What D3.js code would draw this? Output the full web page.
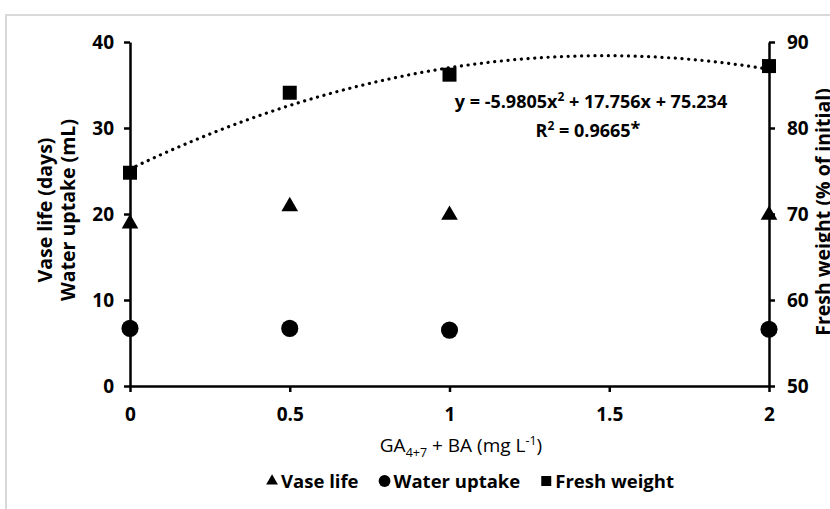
<!DOCTYPE html>
<html>
<head>
<meta charset="utf-8">
<script src="https://cdn.jsdelivr.net/npm/d3@7"></script>
<style>
    body { margin: 0; background: #fff; }
    svg { display: block; font-family: "Open Sans", sans-serif; font-weight: bold; }
    .axis path, .axis line { stroke: #000; stroke-width: 2.5; }
    .axis text { font-size: 19px; font-weight: bold; font-family: "Open Sans", sans-serif; fill: #000; }
</style>
</head>
<body>
<div id="container"></div>
<script>
/* DATA */
const doses = [0, 0.5, 1, 2]
const vaseLife = [19, 21, 20, 20]
const waterUptake = [6.7, 6.7, 6.5, 6.6]
const freshWeight = [74.8, 84.1, 86.2, 87.2]
const xTicks = [0, 0.5, 1, 1.5, 2]
const leftTicks = [0, 10, 20, 30, 40]
const rightTicks = [50, 60, 70, 80, 90]
// trendline coefficients as printed on the chart (a x^2 + b x + c)
const trendCoef = [-5.9805, 17.756, 75.234]
const r2Text = "0.9665"

/* CONSTANTS */
const width = 830,
    height = 509

const svg = d3.select("#container")
    .append("svg")
    .attr("width", width)
    .attr("height", height)

// outer frame (cut by the picture edges)
svg.append("rect")
    .attr("x", 6)
    .attr("y", 15)
    .attr("width", 900)
    .attr("height", 600)
    .attr("fill", "none")
    .attr("stroke", "#d9d9d9")
    .attr("stroke-width", 2)

//SCALES
const xScale = d3.scaleLinear().domain([0, 2]).range([130, 769])
const yLeft = d3.scaleLinear().domain([0, 40]).range([386, 42])
const yRight = d3.scaleLinear().domain([50, 90]).range([386, 42])

// AXES
svg.append("g")
    .attr("class", "axis")
    .attr("transform", "translate(0,386)")
    .call(d3.axisBottom(xScale).tickValues(xTicks).tickFormat(d3.format("")).tickSize(6).tickSizeOuter(0).tickPadding(16))

svg.append("g")
    .attr("class", "axis")
    .attr("transform", "translate(130,0)")
    .call(d3.axisLeft(yLeft).tickValues(leftTicks).tickSize(6).tickSizeOuter(0).tickPadding(10))

svg.append("g")
    .attr("class", "axis")
    .attr("transform", "translate(769,0)")
    .call(d3.axisRight(yRight).tickValues(rightTicks).tickSize(6).tickSizeOuter(0).tickPadding(12))

// TRENDLINE (polynomial from printed coefficients)
const trendX = d3.range(0, 2.0001, 0.02)
const trend = d3.line()
    .x(d => xScale(d))
    .y(d => yRight(trendCoef[0] * d * d + trendCoef[1] * d + trendCoef[2]))
    .curve(d3.curveBasis)

svg.append("path")
    .attr("d", trend(trendX))
    .attr("fill", "none")
    .attr("stroke", "#000")
    .attr("stroke-width", 3.2)
    .attr("stroke-linecap", "round")
    .attr("stroke-dasharray", "0.1 6.6")

// MARKERS
const triangle = d3.symbol().type(d3.symbolTriangle).size(120)
const circle = d3.symbol().type(d3.symbolCircle).size(230)
const square = d3.symbol().type(d3.symbolSquare).size(196)

svg.selectAll(".vase")
    .data(doses)
    .join("path")
    .attr("class", "vase")
    .attr("d", triangle)
    .attr("transform", (d, i) => "translate(" + xScale(d) + "," + (yLeft(vaseLife[i]) + 1) + ")")

svg.selectAll(".water")
    .data(doses)
    .join("path")
    .attr("class", "water")
    .attr("d", circle)
    .attr("transform", (d, i) => "translate(" + xScale(d) + "," + yLeft(waterUptake[i]) + ")")

svg.selectAll(".fresh")
    .data(doses)
    .join("path")
    .attr("class", "fresh")
    .attr("d", square)
    .attr("transform", (d, i) => "translate(" + xScale(d) + "," + yRight(freshWeight[i]) + ")")

// EQUATION
const eq = svg.append("text")
    .attr("x", 591)
    .attr("y", 108)
    .attr("text-anchor", "middle")
    .style("font-size", "18px")
eq.append("tspan").text("y = " + trendCoef[0] + "x")
eq.append("tspan").attr("dy", -7).style("font-size", "12px").text("2")
eq.append("tspan").attr("dy", 7).text(" + " + trendCoef[1] + "x + " + trendCoef[2])

const r2 = svg.append("text")
    .attr("x", 588)
    .attr("y", 137)
    .attr("text-anchor", "middle")
    .style("font-size", "18px")
r2.append("tspan").text("R")
r2.append("tspan").attr("dy", -7).style("font-size", "12px").text("2")
r2.append("tspan").attr("dy", 7).text(" = " + r2Text)
r2.append("tspan").attr("dy", -2).text("*")

// LABELS
const leftTitle = svg.append("text")
    .attr("transform", "translate(0,210) rotate(-90)")
    .attr("text-anchor", "middle")
    .style("font-size", "19.5px")
leftTitle.append("tspan").attr("x", 0).attr("y", 52).text("Vase life (days)")
leftTitle.append("tspan").attr("x", 0).attr("y", 75).text("Water uptake (mL)")

svg.append("text")
    .attr("transform", "translate(830,212) rotate(-90)")
    .attr("text-anchor", "middle")
    .style("font-size", "19.5px")
    .text("Fresh weight (% of initial)")

const xTitle = svg.append("text")
    .attr("x", 461)
    .attr("y", 452)
    .attr("text-anchor", "middle")
    .style("font-size", "19px")
    .style("font-weight", "normal")
xTitle.append("tspan").text("GA")
xTitle.append("tspan").attr("dy", 5).style("font-size", "12.5px").text("4+7")
xTitle.append("tspan").attr("dy", -5).text(" + BA (mg L")
xTitle.append("tspan").attr("dy", -7).style("font-size", "12.5px").text("-1")
xTitle.append("tspan").attr("dy", 7).text(")")

// LEGEND
const legendItems = [
    { name: "Vase life", sym: d3.symbol().type(d3.symbolTriangle).size(60) },
    { name: "Water uptake", sym: d3.symbol().type(d3.symbolCircle).size(110) },
    { name: "Fresh weight", sym: d3.symbol().type(d3.symbolSquare).size(100) }
]
const legend = svg.append("g")
let lx = 0
legendItems.forEach(item => {
    legend.append("path")
        .attr("d", item.sym)
        .attr("transform", "translate(" + (lx + 6) + ",481)")
    const t = legend.append("text")
        .attr("x", lx + 15)
        .attr("y", 488)
        .style("font-size", "18.5px")
        .text(item.name)
    lx += 15 + t.node().getComputedTextLength() + 20
})
legend.attr("transform", "translate(" + (470 - (lx - 20) / 2) + ",0)")
</script>
</body>
</html>
